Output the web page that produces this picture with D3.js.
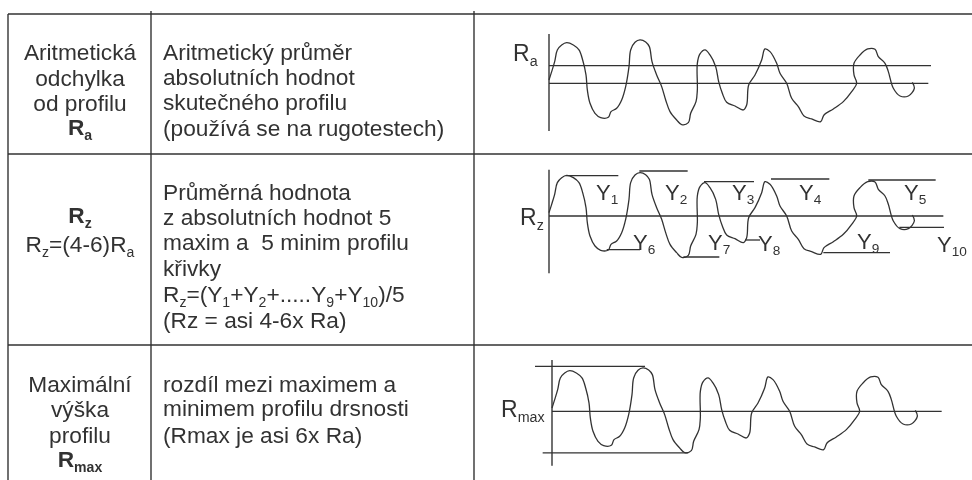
<!DOCTYPE html>
<html>
<head>
<meta charset="utf-8">
<script src="https://cdn.jsdelivr.net/npm/d3@7"></script>
<style>
  html, body { margin: 0; background: #fff; }
  text { font-family: "Liberation Sans", Arial, sans-serif; fill: #333; }
</style>
</head>
<body>
<div id="chart"></div>
<script>
// surface profile (position along the axis, height above the mean line)
const profileX = [0,8,17,25,38,53,73,90,101,111,115,123,138,155,178,186,203,218,230,240,245,258,273,290,301,309,323,338,350,363,383,398,418,425,441,445,445,453,468,483,500,509,520,533,558,583,593,599,618,638,648,663,683,693,713,728,748,765,788,815,825,853,883,908,923,915,915,933,956,978,988,1008,1018,1033,1053,1078,1096,1090]
const profileY = [10,35,65,100,115,122,115,100,70,25,-20,-60,-90,-103,-102,-85,-75,-50,-10,50,100,123,130,124,110,65,25,-10,-50,-85,-110,-124,-118,-90,-55,-20,60,88,100,85,50,5,-30,-57,-68,-80,-65,-5,25,70,103,95,60,30,0,-45,-70,-98,-107,-115,-95,-77,-55,-25,0,25,60,85,103,102,80,60,35,-15,-38,-38,-15,3]

// reference lines, per diagram: height, from, to
const raLevels = [[53, 0, 1146], [0, 0, 1138]]
const rzLevels = [[0, 0, 1183], [121, 51, 208], [135, 271, 416], [103, 465, 615], [111, 666, 841], [108, 958, 1160], [-101, 173, 273], [-123, 403, 511], [-72, 588, 633], [-110, 823, 1023], [-34, 1051, 1185]]
const rmaxLevels = [[0, 0, 1169], [135, -51, 279], [-125, -28, 409]]

const yNames = ["1","2","3","4","5","6","7","8","9","10"]

const col1 = ["Aritmetická", "odchylka", "od profilu", "*R_a", "*R_z", "R_z=(4-6)R_a", "Maximální", "výška", "profilu", "*R_max"]
const col2 = ["Aritmetický průměr", "absolutních hodnot", "skutečného profilu", "(používá se na rugotestech)",
  "Průměrná hodnota", "z absolutních hodnot 5", "maxim a  5 minim profilu", "křivky", "R_z=(Y_1+Y_2+.....Y_9+Y_10)/5", "(Rz = asi 4-6x Ra)",
  "rozdíl mezi maximem a", "minimem profilu drsnosti", "(Rmax je asi 6x Ra)"]

// layout
const width = 972, height = 480
const col1Base = [60, 86, 111, 135, 223, 252, 392, 417, 443, 467]
const col2Base = [60, 85, 110, 136, 200, 225, 250, 276, 302, 328, 392, 416, 443]
const yLabelPos = [[596,200],[665,200],[732,200],[799,200],[904,200],[633,250],[708,250],[758,251],[857,249],[937,252]]
const hLines = [[8, 972, 14], [8, 972, 154], [8, 972, 345]]
const vLines = [[8, 14, 480], [151, 11, 480], [474, 11, 480]]
const textSize = 22.7

const svg = d3.select("#chart").append("svg")
  .attr("width", width).attr("height", height)

// the reference is a soft scan, a slight blur gets closer to it
svg.append("defs").append("filter").attr("id", "soft")
  .append("feGaussianBlur").attr("stdDeviation", 0.5)

const root = svg.append("g").attr("filter", "url(#soft)")

// writes "R_a" style strings as text with subscripts
function richText(sel, str, size) {
  let bold = str.startsWith("*")
  if (bold) str = str.slice(1)
  sel.attr("font-size", size).attr("font-weight", bold ? "bold" : null)
  let afterSub = false
  str.split(/(_[a-z0-9]+)/).filter(d => d).forEach(part => {
    if (part.startsWith("_")) {
      sel.append("tspan").attr("dy", size * 0.2).attr("font-size", size * 0.62).text(part.slice(1))
      afterSub = true
    } else {
      sel.append("tspan").attr("dy", afterSub ? -size * 0.2 : null).text(part)
      afterSub = false
    }
  })
}

root.selectAll(".h").data(hLines).enter().append("line")
  .attr("x1", d => d[0]).attr("x2", d => d[1])
  .attr("y1", d => d[2]).attr("y2", d => d[2])
  .attr("stroke", "#333").attr("stroke-width", 1.4)
root.selectAll(".v").data(vLines).enter().append("line")
  .attr("x1", d => d[0]).attr("x2", d => d[0])
  .attr("y1", d => d[1]).attr("y2", d => d[2])
  .attr("stroke", "#333").attr("stroke-width", 1.4)

root.selectAll(".c1").data(col1).enter().append("text")
  .attr("x", 80).attr("y", (d, i) => col1Base[i])
  .attr("text-anchor", "middle")
  .each(function (d) { richText(d3.select(this), d, textSize) })

root.selectAll(".c2").data(col2).enter().append("text")
  .attr("x", 163).attr("y", (d, i) => col2Base[i])
  .attr("xml:space", "preserve")
  .each(function (d) { richText(d3.select(this), d, textSize) })

// one diagram: the profile, its axis and its reference lines
function diagram(originX, originY, levels, axisTop, axisBottom, label, labelX, labelY) {
  const x = d3.scaleLinear().domain([0, 1200]).range([originX, originX + 400])
  const y = d3.scaleLinear().domain([-150, 150]).range([originY + 50, originY - 50])
  const g = root.append("g")

  g.append("line")
    .attr("x1", x(0)).attr("x2", x(0))
    .attr("y1", y(axisTop)).attr("y2", y(axisBottom))
    .attr("stroke", "#333").attr("stroke-width", 1.4)

  g.selectAll(".level").data(levels).enter().append("line")
    .attr("x1", d => x(d[1])).attr("x2", d => x(d[2]))
    .attr("y1", d => y(d[0])).attr("y2", d => y(d[0]))
    .attr("stroke", "#333").attr("stroke-width", 1.3)

  const line = d3.line()
    .x(d => x(d[0])).y(d => y(d[1]))
    .curve(d3.curveCatmullRom.alpha(0.5))
  g.append("path")
    .attr("d", line(d3.zip(profileX, profileY)))
    .attr("fill", "none").attr("stroke", "#333").attr("stroke-width", 1.3)

  g.append("text").attr("x", labelX).attr("y", labelY)
    .each(function () { richText(d3.select(this), label, 23) })
  return g
}

diagram(549, 83.3, raLevels, 148, -143, "R_a", 513, 61)
const rz = diagram(549, 216, rzLevels, 139, -172, "R_z", 520, 225)
diagram(552, 411.3, rmaxLevels, 154, -163, "R_max", 501, 417)

rz.selectAll(".yname").data(yNames).enter().append("text")
  .attr("x", (d, i) => yLabelPos[i][0]).attr("y", (d, i) => yLabelPos[i][1])
  .each(function (d) { richText(d3.select(this), "Y_" + d, 22) })
</script>
</body>
</html>
